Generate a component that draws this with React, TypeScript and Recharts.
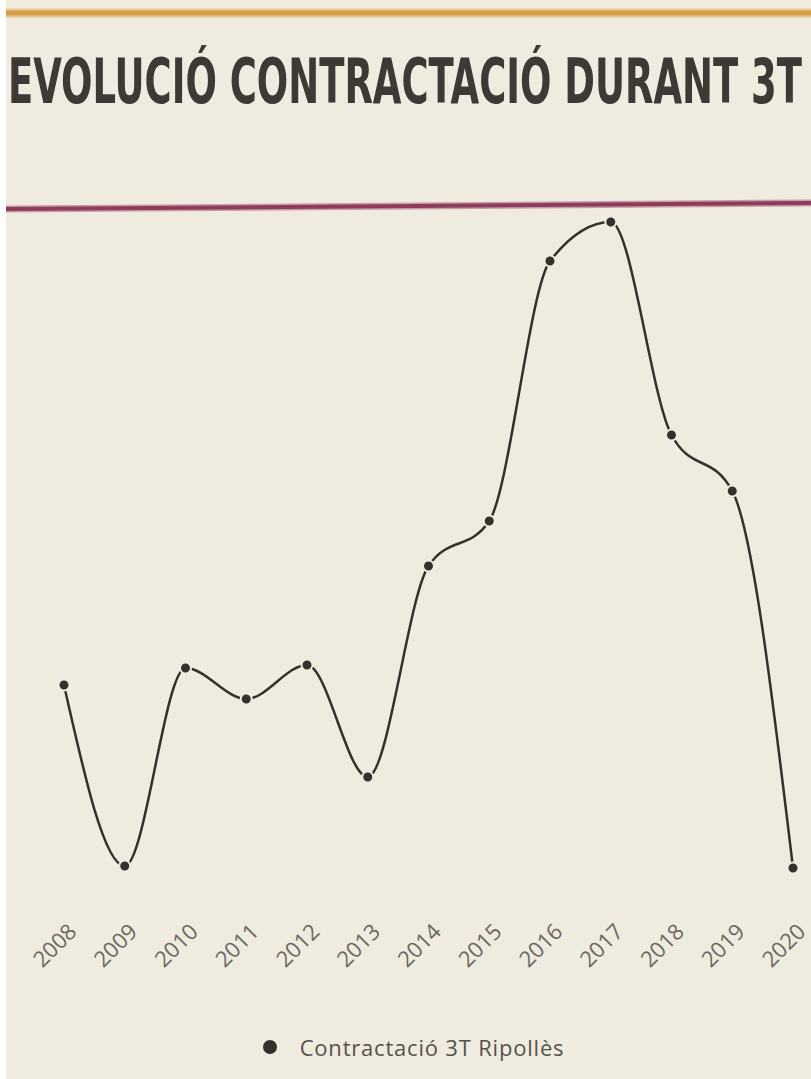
import React from 'react';
import { LineChart, Line, XAxis, YAxis, Legend } from 'recharts';

const years = ['2008', '2009', '2010', '2011', '2012', '2013', '2014', '2015', '2016', '2017', '2018', '2019', '2020'];
const contractacio = [195, 14, 212, 181, 215, 103, 314, 359, 619, 658, 445, 389, 12];
const seriesName = 'Contractació 3T Ripollès';
const title = 'EVOLUCIÓ CONTRACTACIÓ DURANT 3T';

const data = years.map((y, i) => ({ year: y, value: contractacio[i] }));

const BG = '#f0ebdf';
const LINE = '#34302b';
const TITLE_SCALE_Y = 1.5;

const YearTick = (props: any) => {
  const { x, y, payload } = props;
  return (
    <g transform={`translate(${x + 14},${y + 45})`}>
      <text
        x={0}
        y={0}
        transform="rotate(-45)"
        textAnchor="end"
        fill="#6b6862"
        fontFamily="'Open Sans', sans-serif"
        fontSize={22}
      >
        {payload.value}
      </text>
    </g>
  );
};

const LegendContent = () => (
  <div style={{ display: 'flex', justifyContent: 'center', alignItems: 'center', paddingLeft: 15 }}>
    <svg width={16} height={16} style={{ marginRight: 22 }}>
      <circle cx={8} cy={8} r={7} fill={LINE} />
    </svg>
    <span style={{ fontFamily: "'Open Sans', sans-serif", fontSize: 22, letterSpacing: 0.8, color: '#55524c' }}>{seriesName}</span>
  </div>
);

export default function App() {
  return (
    <div style={{ position: 'absolute', left: 0, top: 0, width: 811, height: 1079, background: '#ffffff', overflow: 'hidden' }}>
      <div style={{ position: 'absolute', left: 6, top: 0, width: 805, height: 1079, background: BG }} />
      <svg width={811} height={1079} style={{ position: 'absolute', left: 0, top: 0 }}>
        <line x1={6} y1={13} x2={811} y2={13} stroke="#e8c793" strokeWidth={9} />
        <line x1={6} y1={13} x2={811} y2={13} stroke="#d49d48" strokeWidth={5} />
        <line x1={6} y1={209} x2={811} y2={203} stroke="#c99aa8" strokeWidth={7} />
        <line x1={6} y1={209} x2={811} y2={203} stroke="#8e3d58" strokeWidth={4} />
        <g transform={`scale(1,${TITLE_SCALE_Y})`}>
          <text
            x={8}
            y={103 / TITLE_SCALE_Y}
            fontFamily="'DejaVu Sans Condensed', 'DejaVu Sans', sans-serif"
            fontWeight="bold"
            fontSize={62 / TITLE_SCALE_Y}
            fill="#3d3934"
            textLength={794}
            lengthAdjust="spacingAndGlyphs"
          >
            {title}
          </text>
        </g>
      </svg>
      <div style={{ position: 'absolute', left: 0, top: 0 }}>
        <LineChart width={811} height={1079} data={data} margin={{ top: 200, right: 18, bottom: 139, left: 64 }}>
          <XAxis dataKey="year" axisLine={false} tickLine={false} interval={0} height={60} tick={<YearTick />} />
          <YAxis hide domain={[0, 680]} />
          <Legend
            layout="horizontal"
            verticalAlign="middle"
            align="center"
            content={<LegendContent />}
            wrapperStyle={{ left: 0, top: 1032, width: 811 }}
          />
          <Line
            type="monotone"
            dataKey="value"
            name={seriesName}
            stroke={LINE}
            strokeWidth={2.5}
            dot={{ r: 5.5, fill: LINE, stroke: BG, strokeWidth: 2 }}
            isAnimationActive={false}
          />
        </LineChart>
      </div>
    </div>
  );
}
